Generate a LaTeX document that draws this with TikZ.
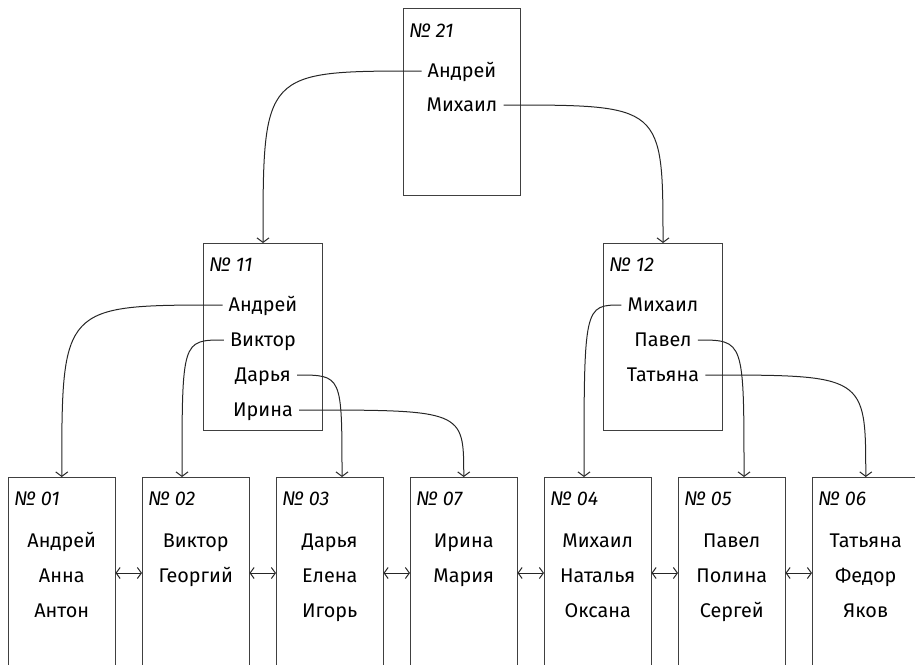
\documentclass[tikz,border=0pt]{standalone}
\usepackage{fontspec}
\setmainfont{Fira Sans}
\usetikzlibrary{arrows.meta,calc}
\begin{document}
\begin{tikzpicture}[x=1pt,y=-1pt,
  bigbox/.style={draw=black!75, line width=1pt, rectangle, anchor=north west, inner sep=0pt, minimum width=117pt, minimum height=187pt},
  leafbox/.style={draw=black!75, line width=1pt, rectangle, anchor=north west, inner sep=0pt, minimum width=106.5pt, minimum height=260pt},
  nm/.style={font=\fontsize{19.8}{22}\selectfont, text height=13.6pt, text depth=0pt, inner ysep=0pt, inner xsep=6pt, anchor=center},
  lab/.style={font=\itshape\fontsize{19.8}{22}\selectfont, text height=13.6pt, text depth=0pt, inner sep=0pt, anchor=west},
  conn/.style={draw=black!85, line width=1pt, -{Straight Barb[length=4.5pt,width=12pt]}},
  dbl/.style={draw=black!85, line width=1pt, {Straight Barb[length=4pt,width=11pt]}-{Straight Barb[length=4pt,width=11pt]}}
]
\clip (0,0) rectangle (915,664);
% top box
\node[bigbox] (b21) at (403,8) {};
\node[lab] (l21) at (409,31) {№ 21};
\node[nm] (n21a) at (b21.north |- 0,71) {Андрей};
\node[nm] (n21m) at (b21.north |- 0,105) {Михаил};
% middle boxes
\node[bigbox, minimum width=119pt] (b11) at (203,243) {};
\node[lab] (l11) at (209,265) {№ 11};
\node[nm] (n11a) at (b11.north |- 0,305) {Андрей};
\node[nm] (n11v) at (b11.north |- 0,340) {Виктор};
\node[nm] (n11d) at (b11.north |- 0,375) {Дарья};
\node[nm] (n11i) at (b11.north |- 0,410) {Ирина};
\node[bigbox, minimum width=119pt] (b12) at (603,243) {};
\node[lab] (l12) at (609,265) {№ 12};
\node[nm] (n12m) at (b12.north |- 0,305) {Михаил};
\node[nm] (n12p) at (b12.north |- 0,340) {Павел};
\node[nm] (n12t) at (b12.north |- 0,375) {Татьяна};
% leaf boxes
\node[leafbox] (b01) at (8,477) {};
\node[leafbox] (b02) at (142,477) {};
\node[leafbox] (b03) at (276,477) {};
\node[leafbox] (b07) at (410,477) {};
\node[leafbox] (b04) at (544,477) {};
\node[leafbox] (b05) at (678,477) {};
\node[leafbox] (b06) at (812,477) {};
\node[lab] (l01) at (14,499) {№ 01};
\node[lab] (l02) at (148,499) {№ 02};
\node[lab] (l03) at (282,499) {№ 03};
\node[lab] (l07) at (416,499) {№ 07};
\node[lab] (l04) at (550,499) {№ 04};
\node[lab] (l05) at (684,499) {№ 05};
\node[lab] (l06) at (818,499) {№ 06};
\node[nm] (m01a) at (b01.north |- 0,541) {Андрей};
\node[nm] (m01b) at (b01.north |- 0,576) {Анна};
\node[nm] (m01c) at (b01.north |- 0,611) {Антон};
\node[nm] (m02a) at (b02.north |- 0,541) {Виктор};
\node[nm] (m02b) at (b02.north |- 0,576) {Георгий};
\node[nm] (m03a) at (b03.north |- 0,541) {Дарья};
\node[nm] (m03b) at (b03.north |- 0,576) {Елена};
\node[nm] (m03c) at (b03.north |- 0,611) {Игорь};
\node[nm] (m07a) at (b07.north |- 0,541) {Ирина};
\node[nm] (m07b) at (b07.north |- 0,576) {Мария};
\node[nm] (m04a) at (b04.north |- 0,541) {Михаил};
\node[nm] (m04b) at (b04.north |- 0,576) {Наталья};
\node[nm] (m04c) at (b04.north |- 0,611) {Оксана};
\node[nm] (m05a) at (b05.north |- 0,541) {Павел};
\node[nm] (m05b) at (b05.north |- 0,576) {Полина};
\node[nm] (m05c) at (b05.north |- 0,611) {Сергей};
\node[nm] (m06a) at (b06.north |- 0,541) {Татьяна};
\node[nm] (m06b) at (b06.north |- 0,576) {Федор};
\node[nm] (m06c) at (b06.north |- 0,611) {Яков};
% arrow end points
\coordinate (e02) at ($(b02.north west)+(40,0)$);
\coordinate (e03) at ($(b03.north west)+(66,0)$);
\coordinate (e04) at ($(b04.north west)+(40,0)$);
\coordinate (e05) at ($(b05.north west)+(66,0)$);
% connectors
\draw[conn] (n21a.west) .. controls (n21a.west -| b11.north) and (n21a.west -| b11.north) .. (b11.north);
\draw[conn] (n21m.east) .. controls (n21m.east -| b12.north) and (n21m.east -| b12.north) .. (b12.north);
\draw[conn] (n11a.west) .. controls (n11a.west -| b01.north) and (n11a.west -| b01.north) .. (b01.north);
\draw[conn] (n11v.west) .. controls (n11v.west -| e02) and (n11v.west -| e02) .. (e02);
\draw[conn] (n11d.east) .. controls (n11d.east -| e03) and (n11d.east -| e03) .. (e03);
\draw[conn] (n11i.east) .. controls (n11i.east -| b07.north) and (n11i.east -| b07.north) .. (b07.north);
\draw[conn] (n12m.west) .. controls (n12m.west -| e04) and (n12m.west -| e04) .. (e04);
\draw[conn] (n12p.east) .. controls (n12p.east -| e05) and (n12p.east -| e05) .. (e05);
\draw[conn] (n12t.east) .. controls (n12t.east -| b06.north) and (n12t.east -| b06.north) .. (b06.north);
% sibling links
\draw[dbl] ($(b01.north east)+(0,96)$) -- ($(b02.north west)+(0,96)$);
\draw[dbl] ($(b02.north east)+(0,96)$) -- ($(b03.north west)+(0,96)$);
\draw[dbl] ($(b03.north east)+(0,96)$) -- ($(b07.north west)+(0,96)$);
\draw[dbl] ($(b07.north east)+(0,96)$) -- ($(b04.north west)+(0,96)$);
\draw[dbl] ($(b04.north east)+(0,96)$) -- ($(b05.north west)+(0,96)$);
\draw[dbl] ($(b05.north east)+(0,96)$) -- ($(b06.north west)+(0,96)$);
\end{tikzpicture}
\end{document}
